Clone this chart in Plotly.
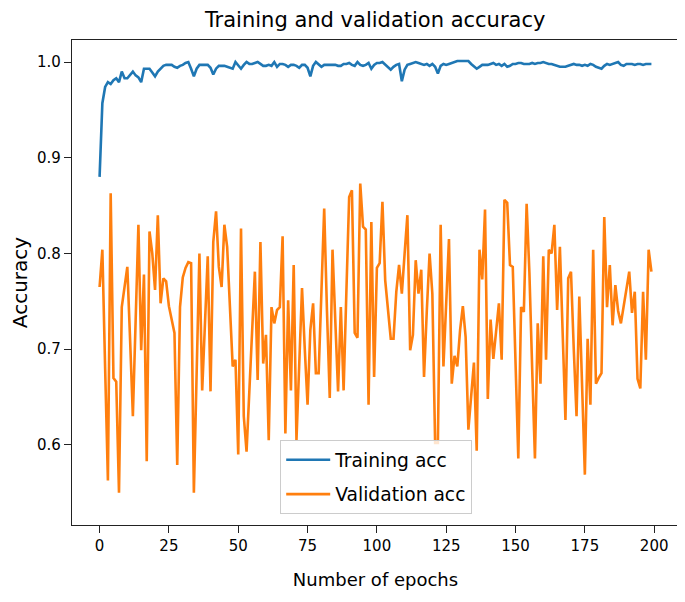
import plotly.graph_objects as go

epochs = list(range(200))

training_acc = [
    0.880, 0.957, 0.974, 0.979, 0.977, 0.981, 0.983, 0.979, 0.990, 0.983,
    0.983, 0.986, 0.990, 0.986, 0.984, 0.979, 0.993, 0.993, 0.993, 0.989,
    0.985, 0.990, 0.993, 0.996, 0.997, 0.997, 0.997, 0.995, 0.994, 0.996,
    0.997, 0.999, 1.000, 0.993, 0.985, 0.993, 0.997, 0.997, 0.997, 0.997,
    0.994, 0.987, 0.993, 0.996, 0.996, 0.996, 0.995, 0.994, 0.993, 1.000,
    0.997, 0.993, 0.997, 1.000, 0.998, 0.998, 0.999, 1.000, 0.998, 0.996,
    0.996, 0.997, 0.996, 1.000, 0.995, 0.998, 0.998, 0.997, 0.995, 0.997,
    0.997, 0.996, 0.994, 0.997, 0.997, 0.994, 0.985, 0.996, 1.000, 0.997,
    0.995, 0.997, 0.997, 0.997, 0.997, 0.997, 0.996, 0.996, 0.998, 0.998,
    0.999, 0.997, 0.996, 1.000, 0.997, 0.996, 0.997, 0.999, 0.993, 0.997,
    0.999, 0.999, 1.000, 0.997, 0.994, 0.992, 0.995, 0.997, 0.998, 0.980,
    0.992, 0.997, 0.998, 0.999, 1.000, 0.999, 0.998, 0.997, 0.998, 0.996,
    0.998, 0.995, 0.988, 0.996, 0.998, 0.997, 0.998, 0.999, 1.000, 1.001,
    1.001, 1.001, 1.001, 1.001, 0.998, 0.995, 0.993, 0.995, 0.997, 0.997,
    0.997, 0.998, 0.999, 0.997, 0.998, 0.996, 0.998, 0.995, 0.996, 0.998,
    0.998, 0.999, 0.999, 0.998, 0.998, 0.998, 0.999, 0.998, 0.999, 0.999,
    1.000, 0.999, 0.998, 0.998, 0.997, 0.996, 0.995, 0.995, 0.995, 0.996,
    0.997, 0.998, 0.997, 0.997, 0.996, 0.997, 0.996, 0.998, 0.997, 0.995,
    0.994, 0.993, 0.996, 0.998, 0.997, 0.998, 0.999, 1.000, 0.997, 0.996,
    0.998, 0.998, 0.998, 0.997, 0.998, 0.998, 0.997, 0.998, 0.998, 0.998,
]

validation_acc = [
    0.765, 0.804, 0.680, 0.563, 0.863, 0.670, 0.666, 0.550, 0.744, 0.765,
    0.786, 0.710, 0.630, 0.730, 0.830, 0.699, 0.778, 0.583, 0.823, 0.800,
    0.762, 0.840, 0.748, 0.774, 0.771, 0.745, 0.730, 0.717, 0.579, 0.744,
    0.775, 0.785, 0.791, 0.790, 0.550, 0.680, 0.800, 0.657, 0.720, 0.797,
    0.656, 0.812, 0.844, 0.786, 0.765, 0.830, 0.807, 0.740, 0.682, 0.689,
    0.590, 0.826, 0.630, 0.593, 0.661, 0.722, 0.781, 0.668, 0.812, 0.685,
    0.715, 0.605, 0.744, 0.727, 0.741, 0.744, 0.818, 0.612, 0.751, 0.657,
    0.788, 0.605, 0.680, 0.764, 0.700, 0.642, 0.720, 0.748, 0.675, 0.675,
    0.760, 0.847, 0.740, 0.649, 0.804, 0.730, 0.656, 0.744, 0.657, 0.760,
    0.859, 0.866, 0.717, 0.712, 0.873, 0.828, 0.825, 0.642, 0.833, 0.671,
    0.785, 0.790, 0.854, 0.772, 0.740, 0.711, 0.711, 0.760, 0.788, 0.758,
    0.800, 0.840, 0.699, 0.715, 0.793, 0.758, 0.783, 0.671, 0.740, 0.800,
    0.758, 0.602, 0.602, 0.830, 0.682, 0.750, 0.815, 0.664, 0.693, 0.682,
    0.720, 0.745, 0.713, 0.616, 0.650, 0.686, 0.594, 0.804, 0.773, 0.846,
    0.648, 0.731, 0.690, 0.720, 0.748, 0.689, 0.856, 0.853, 0.788, 0.786,
    0.690, 0.586, 0.744, 0.739, 0.852, 0.780, 0.680, 0.586, 0.727, 0.664,
    0.797, 0.689, 0.804, 0.800, 0.830, 0.741, 0.807, 0.720, 0.626, 0.774,
    0.781, 0.700, 0.630, 0.755, 0.660, 0.569, 0.711, 0.642, 0.804, 0.664,
    0.670, 0.675, 0.838, 0.744, 0.788, 0.725, 0.767, 0.740, 0.727, 0.745,
    0.765, 0.781, 0.738, 0.760, 0.669, 0.659, 0.760, 0.689, 0.804, 0.781,
]

assert len(training_acc) == 200, len(training_acc)
assert len(validation_acc) == 200, len(validation_acc)

x_ticks = [0, 25, 50, 75, 100, 125, 150, 175, 200]
y_ticks = [0.6, 0.7, 0.8, 0.9, 1.0]

FONT = "DejaVu Sans"

fig = go.Figure()
fig.add_trace(go.Scatter(x=epochs, y=training_acc, mode="lines", name="Training acc",
                         legendgroup="a", line=dict(color="#1f77b4", width=2.6)))
fig.add_trace(go.Scatter(x=epochs, y=validation_acc, mode="lines", name="Validation acc",
                         legendgroup="b", line=dict(color="#ff7f0e", width=2.6)))

fig.update_layout(
    template="none",
    width=685, height=602,
    margin=dict(l=64, r=14, t=32, b=85, pad=0),
    paper_bgcolor="white", plot_bgcolor="white",
    font=dict(family=FONT, color="black", size=15),
    title=dict(text="Training and validation accuracy", x=0.536, xanchor="center",
               y=1 - 12 / 602, yanchor="middle", font=dict(size=21, family=FONT)),
    showlegend=True,
    legend=dict(x=0.343, y=0.175, xanchor="left", yanchor="top",
                bgcolor="rgba(255,255,255,0.8)", bordercolor="#cccccc", borderwidth=1,
                font=dict(size=18.7, family=FONT), tracegroupgap=7, itemwidth=44),
    xaxis=dict(range=[-9.95, 208.95], tickvals=x_ticks, ticks="outside", ticklen=7,
               tickcolor="#222222", automargin=False,
               showgrid=False, zeroline=False, showline=True, linecolor="#222222",
               linewidth=1.3, mirror=True, tickfont=dict(size=15),
               title=dict(text="Number of epochs", font=dict(size=18), standoff=19)),
    yaxis=dict(range=[0.5164, 1.023], tickvals=y_ticks, tickformat=".1f", ticks="outside",
               ticklen=7, tickcolor="#222222", automargin=False,
               showgrid=False, zeroline=False, showline=True, linecolor="#222222",
               linewidth=1.3, mirror=True, tickfont=dict(size=15),
               title=dict(text="Accuracy", font=dict(size=20), standoff=9)),
)

fig.write_html("out.html")
